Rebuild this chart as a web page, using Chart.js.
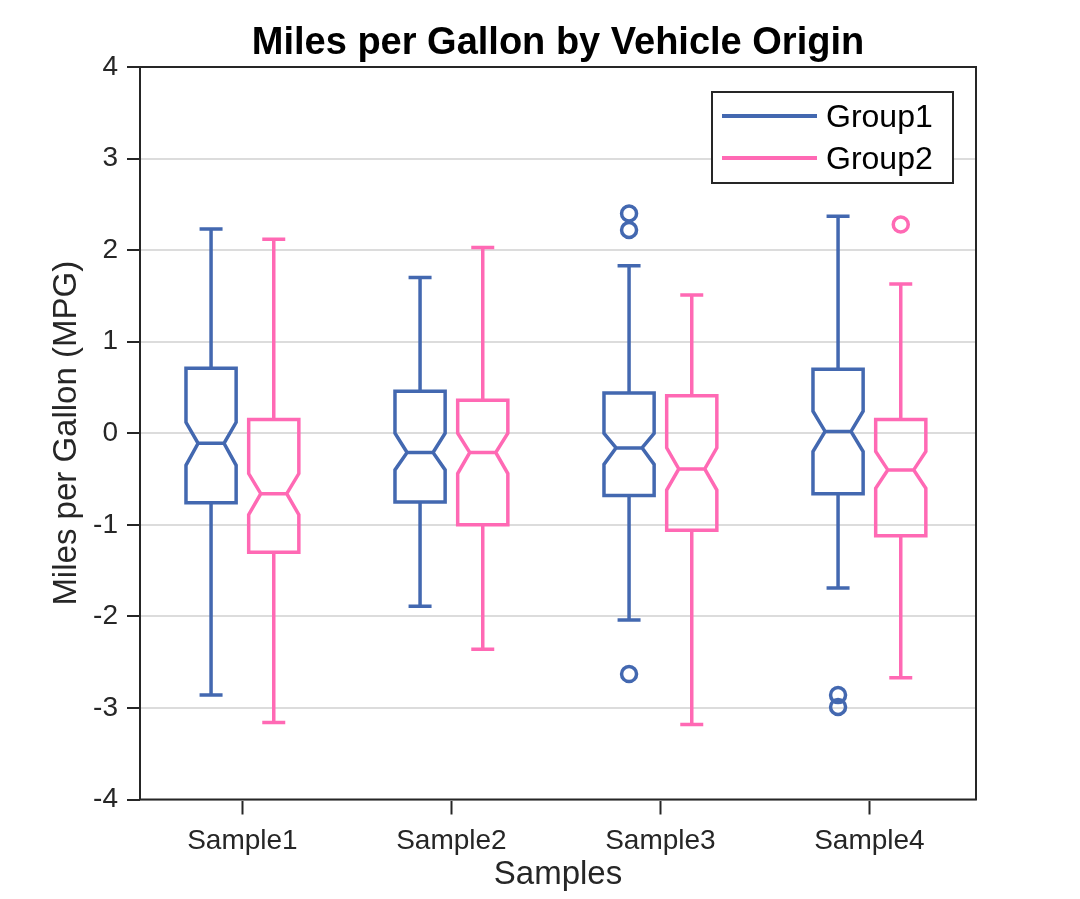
<!DOCTYPE html>
<html lang="en">
  <head>
    <meta charset="UTF-8" />
    <title>Miles per Gallon by Vehicle Origin</title>
    <style>
      body {
        margin: 0;
        background-color: #ffffff;
      }
      canvas {
        display: block;
      }
    </style>
  </head>
  <body>
    <canvas id="graph" width="1080" height="899"></canvas>

    <script src="https://cdn.jsdelivr.net/npm/chart.js"></script>
    <script>
      // categories and groups
      const categories = ["Sample1", "Sample2", "Sample3", "Sample4"];
      const groups = ["Group1", "Group2"];
      const yTicks = [-4, -3, -2, -1, 0, 1, 2, 3, 4];
      const chartTitle = "Miles per Gallon by Vehicle Origin";

      // Group1 box statistics
      const g1WhiskerHi = [2.23, 1.70, 1.83, 2.37];
      const g1Q3 = [0.71, 0.46, 0.44, 0.70];
      const g1NotchHi = [0.12, 0.0, 0.0, 0.24];
      const g1Median = [-0.11, -0.21, -0.16, 0.02];
      const g1NotchLo = [-0.35, -0.40, -0.34, -0.20];
      const g1Q1 = [-0.76, -0.75, -0.68, -0.66];
      const g1WhiskerLo = [-2.86, -1.89, -2.04, -1.69];
      const g1Outliers = [[], [], [2.40, 2.22, -2.63], [-2.86, -2.99]];

      // Group2 box statistics
      const g2WhiskerHi = [2.12, 2.03, 1.51, 1.63];
      const g2Q3 = [0.15, 0.36, 0.41, 0.15];
      const g2NotchHi = [-0.44, 0.0, -0.16, -0.20];
      const g2Median = [-0.66, -0.21, -0.39, -0.40];
      const g2NotchLo = [-0.89, -0.44, -0.62, -0.60];
      const g2Q1 = [-1.30, -1.00, -1.06, -1.12];
      const g2WhiskerLo = [-3.16, -2.36, -3.18, -2.67];
      const g2Outliers = [[], [], [], [2.28]];

      const colors = ["#4368B0", "#FF69B4"];
      const fontFamily = "'Liberation Sans', Arial, sans-serif";
      const textColor = "#262626";

      // layout of the boxes in x units (one unit per sample)
      const groupOffset = [-0.15, 0.15];
      const halfBox = 0.12;
      const halfNotch = 0.062;
      const halfCap = 0.055;

      const stats = [
        { hi: g1WhiskerHi, q3: g1Q3, nHi: g1NotchHi, med: g1Median, nLo: g1NotchLo, q1: g1Q1, lo: g1WhiskerLo, out: g1Outliers },
        { hi: g2WhiskerHi, q3: g2Q3, nHi: g2NotchHi, med: g2Median, nLo: g2NotchLo, q1: g2Q1, lo: g2WhiskerLo, out: g2Outliers },
      ];

      // one line dataset per group: outlines, whiskers, caps, split by gaps
      function boxPath(s, g) {
        const pts = [];
        const gap = (x) => pts.push({ x: x, y: null });
        categories.forEach((c, i) => {
          const cx = i + 1 + groupOffset[g];
          // notched box
          pts.push(
            { x: cx, y: s.q3[i] },
            { x: cx + halfBox, y: s.q3[i] },
            { x: cx + halfBox, y: s.nHi[i] },
            { x: cx + halfNotch, y: s.med[i] },
            { x: cx + halfBox, y: s.nLo[i] },
            { x: cx + halfBox, y: s.q1[i] },
            { x: cx - halfBox, y: s.q1[i] },
            { x: cx - halfBox, y: s.nLo[i] },
            { x: cx - halfNotch, y: s.med[i] },
            { x: cx - halfBox, y: s.nHi[i] },
            { x: cx - halfBox, y: s.q3[i] },
            { x: cx, y: s.q3[i] }
          );
          gap(cx);
          // median
          pts.push({ x: cx - halfNotch, y: s.med[i] }, { x: cx + halfNotch, y: s.med[i] });
          gap(cx);
          // whiskers
          pts.push({ x: cx, y: s.q3[i] }, { x: cx, y: s.hi[i] });
          gap(cx);
          pts.push({ x: cx, y: s.q1[i] }, { x: cx, y: s.lo[i] });
          gap(cx);
          // caps
          pts.push({ x: cx - halfCap, y: s.hi[i] }, { x: cx + halfCap, y: s.hi[i] });
          gap(cx);
          pts.push({ x: cx - halfCap, y: s.lo[i] }, { x: cx + halfCap, y: s.lo[i] });
          gap(cx);
        });
        return pts;
      }

      function outlierPoints(s, g) {
        const pts = [];
        categories.forEach((c, i) => {
          s.out[i].forEach((v) => pts.push({ x: i + 1 + groupOffset[g], y: v }));
        });
        return pts;
      }

      const datasets = [];
      groups.forEach((name, g) => {
        datasets.push({
          label: name,
          data: boxPath(stats[g], g),
          showLine: true,
          spanGaps: false,
          borderColor: colors[g],
          borderWidth: 3.5,
          borderJoinStyle: "miter",
          borderCapStyle: "butt",
          pointRadius: 0,
          pointHitRadius: 0,
          tension: 0,
        });
        datasets.push({
          label: name + " outliers",
          data: outlierPoints(stats[g], g),
          showLine: false,
          pointStyle: "circle",
          pointRadius: 7.5,
          pointBorderWidth: 3.5,
          pointBorderColor: colors[g],
          pointBackgroundColor: "rgba(0,0,0,0)",
        });
      });

      // title over the plot area, frame round it and the legend box inside it
      const framePlugin = {
        id: "frameAndLegend",
        afterDraw(chart) {
          const { ctx, chartArea } = chart;
          ctx.save();
          ctx.fillStyle = "#000000";
          ctx.font = "bold 38px " + fontFamily;
          ctx.textAlign = "center";
          ctx.textBaseline = "alphabetic";
          ctx.fillText(chartTitle, (chartArea.left + chartArea.right) / 2, chartArea.top - 13);

          ctx.strokeStyle = textColor;
          ctx.lineWidth = 2;
          ctx.strokeRect(chartArea.left, chartArea.top, chartArea.right - chartArea.left, chartArea.bottom - chartArea.top);

          const lx = chartArea.right - 264;
          const ly = chartArea.top + 25;
          const lw = 241;
          const lh = 91;
          ctx.fillStyle = "#ffffff";
          ctx.fillRect(lx, ly, lw, lh);
          ctx.strokeStyle = textColor;
          ctx.lineWidth = 2;
          ctx.strokeRect(lx, ly, lw, lh);

          ctx.font = "32px " + fontFamily;
          ctx.textBaseline = "middle";
          ctx.textAlign = "left";
          groups.forEach((name, g) => {
            const y = ly + 24 + g * 42;
            ctx.strokeStyle = colors[g];
            ctx.lineWidth = 4;
            ctx.beginPath();
            ctx.moveTo(lx + 10, y);
            ctx.lineTo(lx + 105, y);
            ctx.stroke();
            ctx.fillStyle = "#000000";
            ctx.fillText(name, lx + 114, y + 2);
          });
          ctx.restore();
        },
      };

      new Chart(document.querySelector("#graph").getContext("2d"), {
        type: "scatter",
        data: { datasets: datasets },
        plugins: [framePlugin],
        options: {
          responsive: false,
          animation: false,
          layout: { padding: { top: 67, right: 104, bottom: 0, left: 0 } },
          plugins: {
            legend: { display: false },
            tooltip: { enabled: false },
            title: { display: false },
          },
          scales: {
            x: {
              type: "linear",
              min: 0.51,
              max: 4.51,
              afterFit: (scale) => {
                scale.height = 99.5;
              },
              afterBuildTicks: (scale) => {
                scale.ticks = categories.map((c, i) => ({ value: i + 1 }));
              },
              ticks: {
                color: textColor,
                font: { family: fontFamily, size: 28 },
                padding: 10,
                maxRotation: 0,
                callback: (value, index) => categories[index],
              },
              grid: {
                drawOnChartArea: false,
                drawTicks: true,
                tickLength: 15,
                tickColor: textColor,
                tickWidth: 2,
              },
              border: { display: false },
              title: {
                display: true,
                text: "Samples",
                color: textColor,
                font: { family: fontFamily, size: 33 },
                padding: { top: 0, bottom: 4 },
              },
            },
            y: {
              min: -4,
              max: 4,
              afterFit: (scale) => {
                scale.width = 140;
              },
              afterBuildTicks: (scale) => {
                scale.ticks = yTicks.map((v) => ({ value: v }));
              },
              ticks: {
                color: textColor,
                font: { family: fontFamily, size: 28 },
                padding: 9,
              },
              grid: {
                color: "#dcdcdc",
                lineWidth: 2,
                drawTicks: true,
                tickLength: 13,
                tickColor: textColor,
                tickWidth: 2,
              },
              border: { display: false },
              title: {
                display: true,
                text: "Miles per Gallon (MPG)",
                color: textColor,
                font: { family: fontFamily, size: 33 },
                padding: { top: 47, bottom: 0 },
              },
            },
          },
        },
      });
    </script>
  </body>
</html>
